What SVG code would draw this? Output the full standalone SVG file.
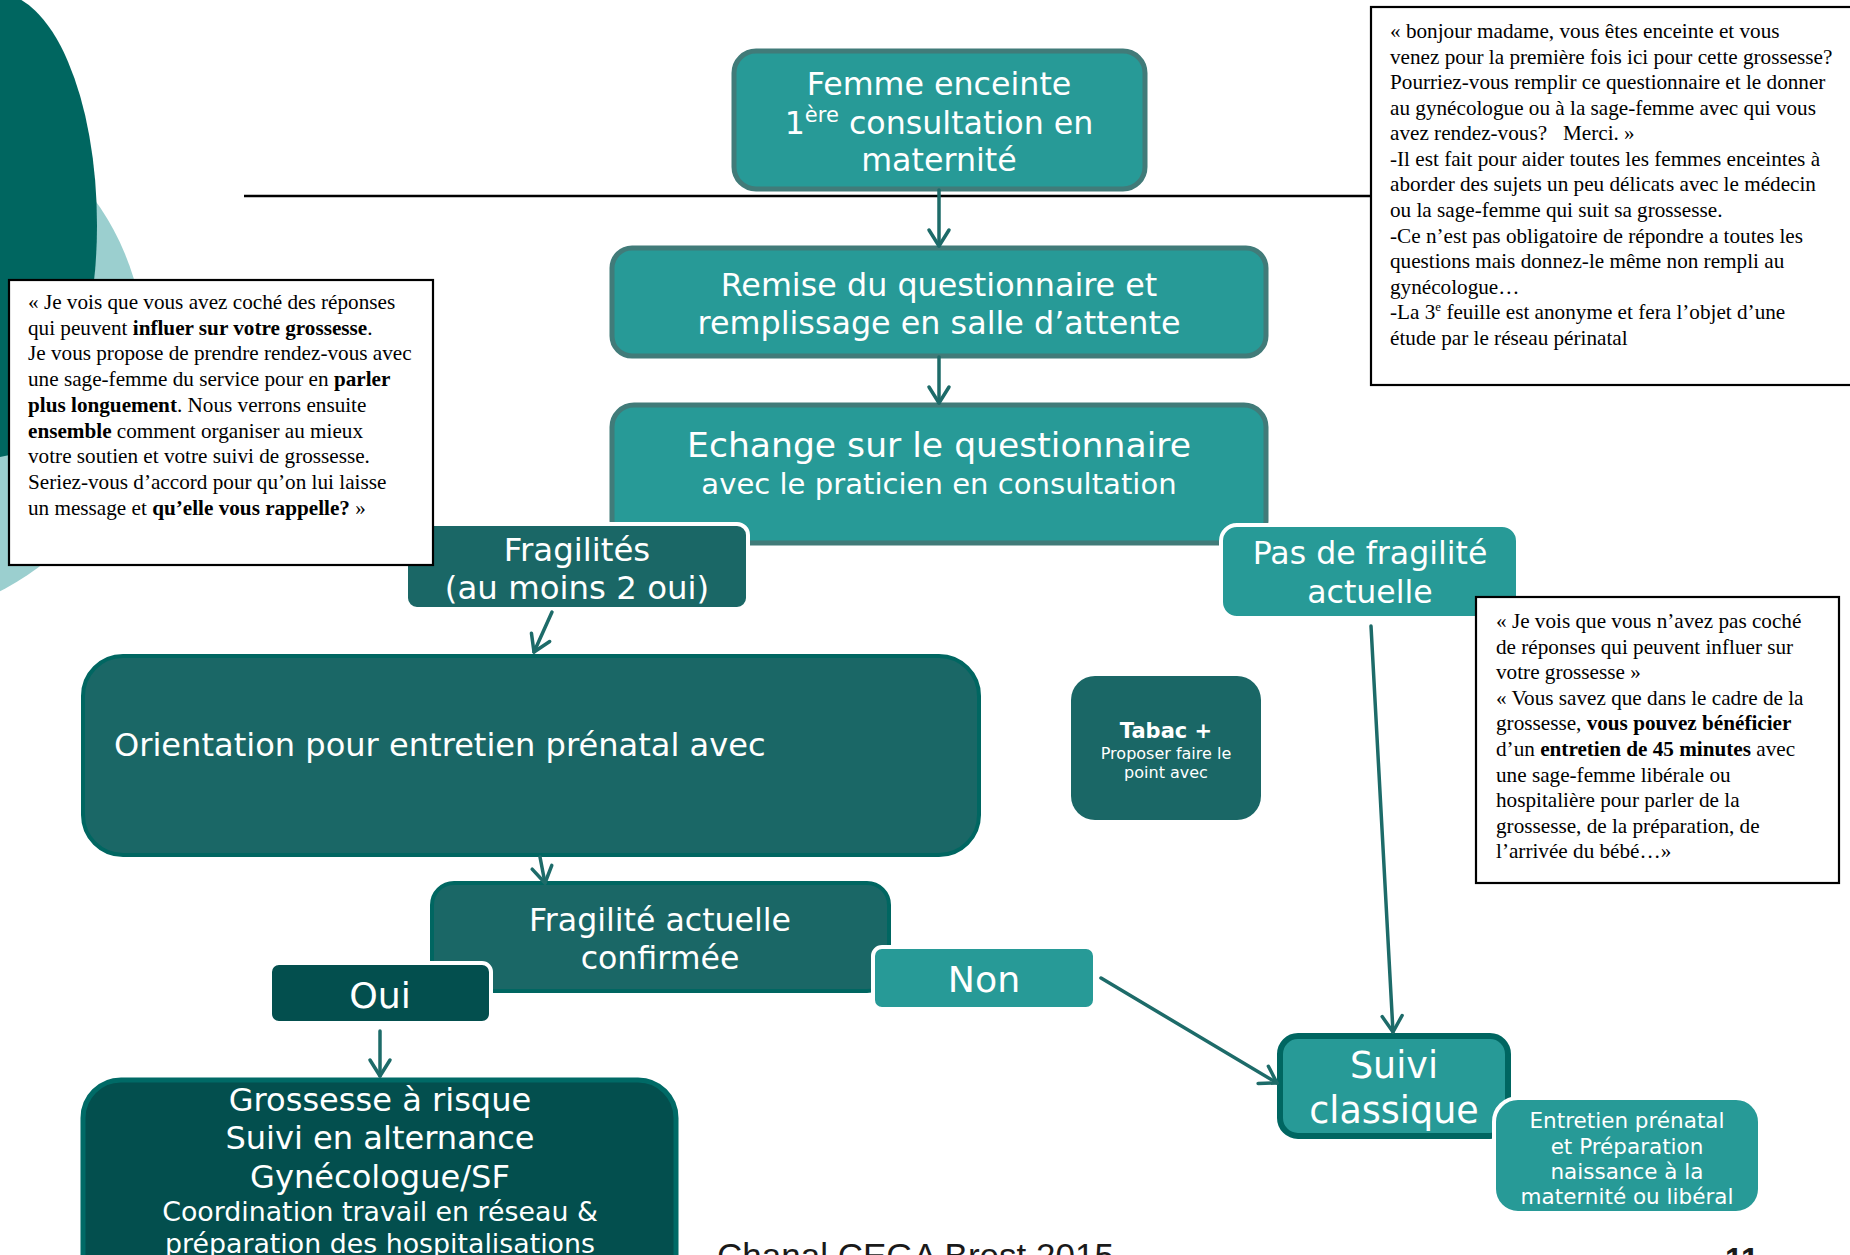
<svg xmlns="http://www.w3.org/2000/svg" width="1850" height="1255" viewBox="0 0 1850 1255">
<defs>
<style>
.nt{font-family:"DejaVu Sans",Verdana,sans-serif;fill:#fff;text-anchor:middle}
.q{font-family:"Liberation Serif","Times New Roman",serif;font-size:21.2px;fill:#000}
.qb{fill:#fff;stroke:#000;stroke-width:2.2}
.b{font-weight:bold}
.conn{stroke:#1d6b69;stroke-width:3.5;fill:none;stroke-linecap:round}
.mid{fill:#279a97}
.dk{fill:#1a6766}
.dkr{fill:#034f4e}
.gb{stroke:#417b79;stroke-width:5}
.tb{stroke:#006661;stroke-width:4}
.wb{stroke:#fff;stroke-width:4}
</style>
<marker id="arr" viewBox="-20 -14 24 28" refX="0" refY="0" markerWidth="24" markerHeight="28" markerUnits="userSpaceOnUse" orient="auto">
<path d="M-16,-10 L0,0 L-16,10" fill="none" stroke="#1d6b69" stroke-width="3.5" stroke-linecap="round" stroke-linejoin="round"/>
</marker>
</defs>
<rect x="0" y="0" width="1850" height="1255" fill="#fff"/>
<g id="background">
<circle cx="-120" cy="355" r="265" fill="#9bcfcf"/>
<ellipse cx="-3" cy="225" rx="100" ry="232" fill="#006660"/>
</g>

<g id="node-femme">
<rect class="mid gb" x="734" y="51" width="411" height="138" rx="22"/>
<text class="nt" x="939" y="95" font-size="31.7">Femme enceinte</text>
<text class="nt" x="939" y="134" font-size="31.7">1<tspan font-size="21" dy="-12">ère</tspan><tspan dy="12"> consultation en</tspan></text>
<text class="nt" x="939" y="171" font-size="31.7">maternité</text>
</g>

<g id="node-remise">
<rect class="mid gb" x="612" y="248" width="654" height="108" rx="20"/>
<text class="nt" x="939" y="296" font-size="31.8">Remise du questionnaire et</text>
<text class="nt" x="939" y="334" font-size="31.8">remplissage en salle d’attente</text>
</g>

<g id="node-echange">
<rect class="mid gb" x="612" y="405" width="654" height="138" rx="22"/>
<text class="nt" x="939" y="457" font-size="34.6">Echange sur le questionnaire</text>
<text class="nt" x="939" y="494" font-size="29.1">avec le praticien en consultation</text>
</g>

<g id="node-fragilites">
<rect class="dk wb" x="406" y="524" width="342" height="85" rx="11"/>
<text class="nt" x="577" y="561" font-size="32.4">Fragilités</text>
<text class="nt" x="577" y="599" font-size="32.4">(au moins 2 oui)</text>
</g>

<g id="node-pas-fragilite">
<rect class="mid wb" x="1221" y="525" width="297" height="93" rx="16"/>
<text class="nt" x="1370" y="564" font-size="31.6">Pas de fragilité</text>
<text class="nt" x="1370" y="603" font-size="31.6">actuelle</text>
</g>

<g id="note-fragilites">
<rect class="qb" x="9" y="280" width="424" height="285"/>
<text class="q" x="28" y="309">« Je vois que vous avez coché des réponses</text>
<text class="q" x="28" y="334.7">qui peuvent <tspan class="b">influer sur votre grossesse</tspan>.</text>
<text class="q" x="28" y="360.4">Je vous propose de prendre rendez-vous avec</text>
<text class="q" x="28" y="386.1">une sage-femme du service pour en <tspan class="b">parler</tspan></text>
<text class="q" x="28" y="411.8"><tspan class="b">plus longuement</tspan>. Nous verrons ensuite</text>
<text class="q" x="28" y="437.5"><tspan class="b">ensemble</tspan> comment organiser au mieux</text>
<text class="q" x="28" y="463.2">votre soutien et votre suivi de grossesse.</text>
<text class="q" x="28" y="488.9">Seriez-vous d’accord pour qu’on lui laisse</text>
<text class="q" x="28" y="514.6">un message et <tspan class="b">qu’elle vous rappelle?</tspan> »</text>
</g>

<g id="note-accueil">
<rect class="qb" x="1371" y="7" width="490" height="378"/>
<text class="q" x="1390" y="38">« bonjour madame, vous êtes enceinte et vous</text>
<text class="q" x="1390" y="63.6">venez pour la première fois ici pour cette grossesse?</text>
<text class="q" x="1390" y="89.1">Pourriez-vous remplir ce questionnaire et le donner</text>
<text class="q" x="1390" y="114.7">au gynécologue ou à la sage-femme avec qui vous</text>
<text class="q" x="1390" y="140.2">avez rendez-vous? &#160; Merci. »</text>
<text class="q" x="1390" y="165.8">-Il est fait pour aider toutes les femmes enceintes à</text>
<text class="q" x="1390" y="191.4">aborder des sujets un peu délicats avec le médecin</text>
<text class="q" x="1390" y="216.9">ou la sage-femme qui suit sa grossesse.</text>
<text class="q" x="1390" y="242.5">-Ce n’est pas obligatoire de répondre a toutes les</text>
<text class="q" x="1390" y="268">questions mais donnez-le même non rempli au</text>
<text class="q" x="1390" y="293.6">gynécologue…</text>
<text class="q" x="1390" y="319.2">-La 3<tspan font-size="13" dy="-8">e</tspan><tspan dy="8"> feuille est anonyme et fera l’objet d’une</tspan></text>
<text class="q" x="1390" y="344.7">étude par le réseau périnatal</text>
</g>

<g id="node-orientation">
<rect class="dk tb" x="83" y="656" width="896" height="199" rx="40"/>
<text class="nt" x="114" y="756" font-size="32.1" style="text-anchor:start">Orientation pour entretien prénatal avec</text>
</g>

<g id="node-tabac">
<rect class="dk" x="1071" y="676" width="190" height="144" rx="24"/>
<text class="nt b" x="1166" y="738" font-size="21">Tabac +</text>
<text class="nt" x="1166" y="759" font-size="16">Proposer faire le</text>
<text class="nt" x="1166" y="778" font-size="16">point avec</text>
</g>

<g id="node-fragilite-confirmee">
<rect class="dk tb" x="432" y="883" width="457" height="108" rx="22"/>
<text class="nt" x="660" y="931" font-size="31.6">Fragilité actuelle</text>
<text class="nt" x="660" y="969" font-size="31.6">confirmée</text>
</g>

<g id="node-oui">
<rect class="dkr wb" x="270" y="963" width="221" height="60" rx="9"/>
<text class="nt" x="380" y="1008" font-size="36.3">Oui</text>
</g>

<g id="node-non">
<rect class="mid wb" x="873" y="947" width="222" height="62" rx="9"/>
<text class="nt" x="984" y="992" font-size="36.3">Non</text>
</g>

<g id="node-grossesse">
<rect class="dkr" x="83" y="1080" width="593" height="220" rx="38" stroke="#006a66" stroke-width="5"/>
<text class="nt" x="380" y="1111" font-size="32.1">Grossesse à risque</text>
<text class="nt" x="380" y="1149" font-size="32.1">Suivi en alternance</text>
<text class="nt" x="380" y="1188" font-size="32.1">Gynécologue/SF</text>
<text class="nt" x="380" y="1221" font-size="26.8">Coordination travail en réseau &amp;</text>
<text class="nt" x="380" y="1253" font-size="26.8">préparation des hospitalisations</text>
</g>

<g id="node-suivi">
<rect class="mid" x="1280" y="1036" width="228" height="100" rx="18" stroke="#006661" stroke-width="6"/>
<text class="nt" x="1394" y="1078" font-size="36.5">Suivi</text>
<text class="nt" x="1394" y="1123" font-size="36.5">classique</text>
</g>

<g id="node-entretien">
<rect class="mid wb" x="1494" y="1098" width="266" height="115" rx="24"/>
<text class="nt" x="1627" y="1128" font-size="21.5">Entretien prénatal</text>
<text class="nt" x="1627" y="1154" font-size="21.5">et Préparation</text>
<text class="nt" x="1627" y="1179" font-size="21.5">naissance à la</text>
<text class="nt" x="1627" y="1204" font-size="21.5">maternité ou libéral</text>
</g>

<g id="note-entretien">
<rect class="qb" x="1476" y="597" width="363" height="286"/>
<text class="q" x="1496" y="628">« Je vois que vous n’avez pas coché</text>
<text class="q" x="1496" y="653.6">de réponses qui peuvent influer sur</text>
<text class="q" x="1496" y="679.2">votre grossesse »</text>
<text class="q" x="1496" y="704.8">« Vous savez que dans le cadre de la</text>
<text class="q" x="1496" y="730.4">grossesse, <tspan class="b">vous pouvez bénéficier</tspan></text>
<text class="q" x="1496" y="756">d’un <tspan class="b">entretien de 45 minutes</tspan> avec</text>
<text class="q" x="1496" y="781.6">une sage-femme libérale ou</text>
<text class="q" x="1496" y="807.2">hospitalière pour parler de la</text>
<text class="q" x="1496" y="832.8">grossesse, de la préparation, de</text>
<text class="q" x="1496" y="858.4">l’arrivée du bébé…»</text>
</g>

<g id="connectors">
<line x1="244" y1="196" x2="1371" y2="196" stroke="#000" stroke-width="2.5"/>
<line class="conn" x1="939" y1="190" x2="939" y2="246" marker-end="url(#arr)"/>
<line class="conn" x1="939" y1="357" x2="939" y2="403" marker-end="url(#arr)"/>
<line class="conn" x1="552" y1="612" x2="534" y2="652" marker-end="url(#arr)"/>
<line class="conn" x1="540" y1="857" x2="545" y2="883" marker-end="url(#arr)"/>
<line class="conn" x1="380" y1="1031" x2="380" y2="1076" marker-end="url(#arr)"/>
<line class="conn" x1="1101" y1="978" x2="1277" y2="1083" marker-end="url(#arr)"/>
<line class="conn" x1="1371" y1="626" x2="1393" y2="1032" marker-end="url(#arr)"/>
</g>

<g id="footer">
<text x="717" y="1268" font-family="Liberation Sans, Arial, sans-serif" font-size="35" fill="#1a1a1a">Chanal CEGA Brest 2015</text>
<text x="1725" y="1270" font-family="Liberation Sans, Arial, sans-serif" font-size="32" font-weight="bold" fill="#1a1a1a">11</text>
</g>
</svg>
